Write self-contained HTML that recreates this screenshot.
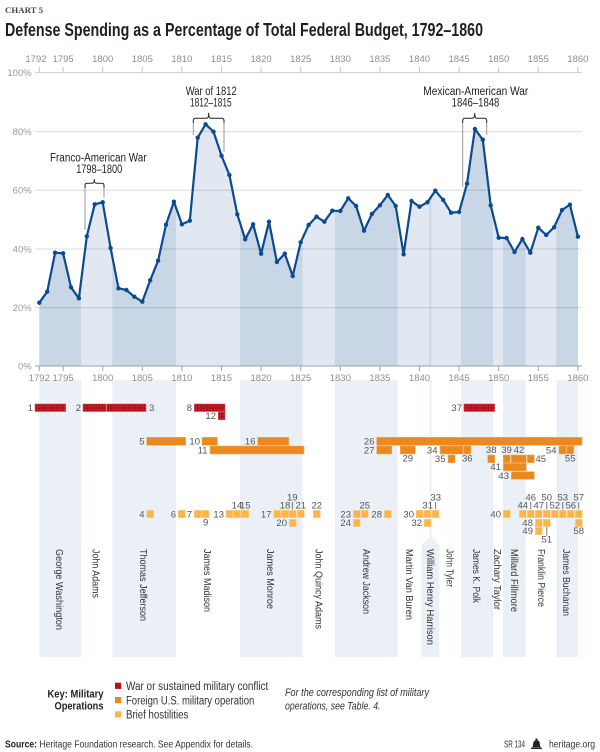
<!DOCTYPE html>
<html><head><meta charset="utf-8"><style>
html,body{margin:0;padding:0;background:#fff;}
svg{display:block;}
text{font-family:"Liberation Sans",sans-serif;}
</style></head><body>
<svg width="600" height="752" viewBox="0 0 600 752" xmlns="http://www.w3.org/2000/svg">
<defs>
<pattern id="dots" width="3" height="3" patternUnits="userSpaceOnUse">
<rect width="3" height="3" fill="#b3121c"/><rect x="1" y="1" width="0.8" height="0.8" fill="#d4555c"/>
</pattern>
<clipPath id="area"><polygon points="39.3,302.7 47.2,291.7 55.1,252.7 63.1,253.3 71,287.3 78.9,298.3 86.8,236.3 94.7,204.3 102.7,202.3 110.6,248 118.5,288.3 126.4,290 134.3,296.7 142.3,301.7 150.2,280.3 158.1,260.7 166,224.7 173.9,201.7 181.9,224.3 189.8,220.7 197.7,137.7 205.6,124.3 213.5,131.7 221.5,155.7 229.4,175 237.3,214.3 245.2,239.3 253.1,224.3 261.1,253.7 269,221.7 276.9,262 284.8,253.7 292.7,276 300.7,242.3 308.6,225 316.5,216.7 324.4,221.7 332.3,210.7 340.3,211 348.2,198.3 356.1,206 364,230.7 371.9,214 379.9,205.3 387.8,195 395.7,206 403.6,254.3 411.5,201 419.5,206.7 427.4,202.3 435.3,190.7 443.2,200 451.1,212.7 459.1,212 467,183.7 474.9,129 482.8,139.7 490.7,205.3 498.7,237.7 506.6,238 514.5,252 522.4,239 530.3,252.7 538.3,227.7 546.2,235 554.1,227.3 562,210 569.9,204.7 577.9,236.7 577.9,366 39.3,366"/></clipPath>
</defs>
<rect width="600" height="752" fill="#fff"/>

<!-- header -->
<text x="5" y="13" font-size="8.5" fill="#444" font-weight="bold" textLength="38" lengthAdjust="spacingAndGlyphs" style="font-family:'Liberation Serif',serif">CHART 5</text>
<text x="5" y="36" font-size="18.5" font-weight="bold" fill="#231f20" textLength="478" lengthAdjust="spacingAndGlyphs">Defense Spending as a Percentage of Total Federal Budget, 1792–1860</text>

<!-- lower president bands -->
<g fill="#ebf0f7">
<rect x="39.3" y="380" width="41.7" height="277"/>
<rect x="112.3" y="380" width="63.7" height="277"/>
<rect x="240" y="380" width="62.5" height="277"/>
<rect x="335" y="380" width="62.7" height="277"/>
<rect x="429.5" y="380" width="2" height="160"/>
<polygon points="421.7,545 430.5,536.5 439.3,545 439.3,657 421.7,657"/>
<rect x="461" y="380" width="32" height="277"/>
<rect x="503" y="380" width="22.7" height="277"/>
<rect x="556.3" y="380" width="21.7" height="277"/>
</g>

<!-- area fill bands -->
<g clip-path="url(#area)">
<rect x="39" y="60" width="540" height="306" fill="#e1e8f1"/>
<g fill="#c8d6e6">
<rect x="39" y="60" width="42" height="306"/>
<rect x="112.3" y="60" width="63.7" height="306"/>
<rect x="240" y="60" width="62.5" height="306"/>
<rect x="335" y="60" width="62.7" height="306"/>
<rect x="429.5" y="60" width="1.6" height="306"/>
<rect x="461" y="60" width="32" height="306"/>
<rect x="503" y="60" width="22.7" height="306"/>
<rect x="556.3" y="60" width="22" height="306"/>
</g>
</g>

<!-- gridlines -->
<g stroke="rgba(0,0,0,0.14)" stroke-width="1">
<line x1="35" y1="307.7" x2="582" y2="307.7"/>
<line x1="35" y1="249" x2="582" y2="249"/>
<line x1="35" y1="190.3" x2="582" y2="190.3"/>
<line x1="35" y1="131.6" x2="582" y2="131.6"/>
</g>
<line x1="35" y1="72.6" x2="582" y2="72.6" stroke="#cfcfcf" stroke-width="1"/>
<line x1="35" y1="366" x2="582" y2="366" stroke="#9aa3ad" stroke-width="1"/>
<g stroke="#c4c4c4" stroke-width="1">
<line x1="39.3" y1="67" x2="39.3" y2="72.6"/><line x1="63.1" y1="67" x2="63.1" y2="72.6"/><line x1="102.7" y1="67" x2="102.7" y2="72.6"/><line x1="142.3" y1="67" x2="142.3" y2="72.6"/><line x1="181.9" y1="67" x2="181.9" y2="72.6"/><line x1="221.5" y1="67" x2="221.5" y2="72.6"/><line x1="261.1" y1="67" x2="261.1" y2="72.6"/><line x1="300.7" y1="67" x2="300.7" y2="72.6"/><line x1="340.3" y1="67" x2="340.3" y2="72.6"/><line x1="379.9" y1="67" x2="379.9" y2="72.6"/><line x1="419.5" y1="67" x2="419.5" y2="72.6"/><line x1="459.1" y1="67" x2="459.1" y2="72.6"/><line x1="498.7" y1="67" x2="498.7" y2="72.6"/><line x1="538.3" y1="67" x2="538.3" y2="72.6"/><line x1="577.9" y1="67" x2="577.9" y2="72.6"/>
</g>
<g stroke="#9aa3ad" stroke-width="1">
<line x1="39.3" y1="366" x2="39.3" y2="371"/><line x1="63.1" y1="366" x2="63.1" y2="371"/><line x1="102.7" y1="366" x2="102.7" y2="371"/><line x1="142.3" y1="366" x2="142.3" y2="371"/><line x1="181.9" y1="366" x2="181.9" y2="371"/><line x1="221.5" y1="366" x2="221.5" y2="371"/><line x1="261.1" y1="366" x2="261.1" y2="371"/><line x1="300.7" y1="366" x2="300.7" y2="371"/><line x1="340.3" y1="366" x2="340.3" y2="371"/><line x1="379.9" y1="366" x2="379.9" y2="371"/><line x1="419.5" y1="366" x2="419.5" y2="371"/><line x1="459.1" y1="366" x2="459.1" y2="371"/><line x1="498.7" y1="366" x2="498.7" y2="371"/><line x1="538.3" y1="366" x2="538.3" y2="371"/><line x1="577.9" y1="366" x2="577.9" y2="371"/>
</g>

<!-- axis labels -->
<g font-size="9.5" fill="#8e8e8e" text-anchor="middle">
<text x="36" y="62">1792</text><text x="63.1" y="62">1795</text><text x="102.7" y="62">1800</text><text x="142.3" y="62">1805</text><text x="181.9" y="62">1810</text><text x="221.5" y="62">1815</text><text x="261.1" y="62">1820</text><text x="300.7" y="62">1825</text><text x="340.3" y="62">1830</text><text x="379.9" y="62">1835</text><text x="419.5" y="62">1840</text><text x="459.1" y="62">1845</text><text x="498.7" y="62">1850</text><text x="538.3" y="62">1855</text><text x="577.9" y="62">1860</text>
<text x="39.3" y="381">1792</text><text x="63.1" y="381">1795</text><text x="102.7" y="381">1800</text><text x="142.3" y="381">1805</text><text x="181.9" y="381">1810</text><text x="221.5" y="381">1815</text><text x="261.1" y="381">1820</text><text x="300.7" y="381">1825</text><text x="340.3" y="381">1830</text><text x="379.9" y="381">1835</text><text x="419.5" y="381">1840</text><text x="459.1" y="381">1845</text><text x="498.7" y="381">1850</text><text x="538.3" y="381">1855</text><text x="577.9" y="381">1860</text>
</g>
<g font-size="9.5" fill="#999" text-anchor="end">
<text x="31.7" y="76">100%</text><text x="31.7" y="135">80%</text><text x="31.7" y="193.7">60%</text><text x="31.7" y="252.4">40%</text><text x="31.7" y="311">20%</text><text x="31.7" y="369.4">0%</text>
</g>

<!-- data line -->
<polyline fill="none" stroke="#0b4a8e" stroke-width="2.2" stroke-linejoin="round" points="39.3,302.7 47.2,291.7 55.1,252.7 63.1,253.3 71,287.3 78.9,298.3 86.8,236.3 94.7,204.3 102.7,202.3 110.6,248 118.5,288.3 126.4,290 134.3,296.7 142.3,301.7 150.2,280.3 158.1,260.7 166,224.7 173.9,201.7 181.9,224.3 189.8,220.7 197.7,137.7 205.6,124.3 213.5,131.7 221.5,155.7 229.4,175 237.3,214.3 245.2,239.3 253.1,224.3 261.1,253.7 269,221.7 276.9,262 284.8,253.7 292.7,276 300.7,242.3 308.6,225 316.5,216.7 324.4,221.7 332.3,210.7 340.3,211 348.2,198.3 356.1,206 364,230.7 371.9,214 379.9,205.3 387.8,195 395.7,206 403.6,254.3 411.5,201 419.5,206.7 427.4,202.3 435.3,190.7 443.2,200 451.1,212.7 459.1,212 467,183.7 474.9,129 482.8,139.7 490.7,205.3 498.7,237.7 506.6,238 514.5,252 522.4,239 530.3,252.7 538.3,227.7 546.2,235 554.1,227.3 562,210 569.9,204.7 577.9,236.7"/>
<g fill="#0b4a8e">
<circle cx="39.3" cy="302.7" r="2.2"/><circle cx="47.2" cy="291.7" r="2.2"/><circle cx="55.1" cy="252.7" r="2.2"/><circle cx="63.1" cy="253.3" r="2.2"/><circle cx="71" cy="287.3" r="2.2"/><circle cx="78.9" cy="298.3" r="2.2"/><circle cx="86.8" cy="236.3" r="2.2"/><circle cx="94.7" cy="204.3" r="2.2"/><circle cx="102.7" cy="202.3" r="2.2"/><circle cx="110.6" cy="248" r="2.2"/><circle cx="118.5" cy="288.3" r="2.2"/><circle cx="126.4" cy="290" r="2.2"/><circle cx="134.3" cy="296.7" r="2.2"/><circle cx="142.3" cy="301.7" r="2.2"/><circle cx="150.2" cy="280.3" r="2.2"/><circle cx="158.1" cy="260.7" r="2.2"/><circle cx="166" cy="224.7" r="2.2"/><circle cx="173.9" cy="201.7" r="2.2"/><circle cx="181.9" cy="224.3" r="2.2"/><circle cx="189.8" cy="220.7" r="2.2"/><circle cx="197.7" cy="137.7" r="2.2"/><circle cx="205.6" cy="124.3" r="2.2"/><circle cx="213.5" cy="131.7" r="2.2"/><circle cx="221.5" cy="155.7" r="2.2"/><circle cx="229.4" cy="175" r="2.2"/><circle cx="237.3" cy="214.3" r="2.2"/><circle cx="245.2" cy="239.3" r="2.2"/><circle cx="253.1" cy="224.3" r="2.2"/><circle cx="261.1" cy="253.7" r="2.2"/><circle cx="269" cy="221.7" r="2.2"/><circle cx="276.9" cy="262" r="2.2"/><circle cx="284.8" cy="253.7" r="2.2"/><circle cx="292.7" cy="276" r="2.2"/><circle cx="300.7" cy="242.3" r="2.2"/><circle cx="308.6" cy="225" r="2.2"/><circle cx="316.5" cy="216.7" r="2.2"/><circle cx="324.4" cy="221.7" r="2.2"/><circle cx="332.3" cy="210.7" r="2.2"/><circle cx="340.3" cy="211" r="2.2"/><circle cx="348.2" cy="198.3" r="2.2"/><circle cx="356.1" cy="206" r="2.2"/><circle cx="364" cy="230.7" r="2.2"/><circle cx="371.9" cy="214" r="2.2"/><circle cx="379.9" cy="205.3" r="2.2"/><circle cx="387.8" cy="195" r="2.2"/><circle cx="395.7" cy="206" r="2.2"/><circle cx="403.6" cy="254.3" r="2.2"/><circle cx="411.5" cy="201" r="2.2"/><circle cx="419.5" cy="206.7" r="2.2"/><circle cx="427.4" cy="202.3" r="2.2"/><circle cx="435.3" cy="190.7" r="2.2"/><circle cx="443.2" cy="200" r="2.2"/><circle cx="451.1" cy="212.7" r="2.2"/><circle cx="459.1" cy="212" r="2.2"/><circle cx="467" cy="183.7" r="2.2"/><circle cx="474.9" cy="129" r="2.2"/><circle cx="482.8" cy="139.7" r="2.2"/><circle cx="490.7" cy="205.3" r="2.2"/><circle cx="498.7" cy="237.7" r="2.2"/><circle cx="506.6" cy="238" r="2.2"/><circle cx="514.5" cy="252" r="2.2"/><circle cx="522.4" cy="239" r="2.2"/><circle cx="530.3" cy="252.7" r="2.2"/><circle cx="538.3" cy="227.7" r="2.2"/><circle cx="546.2" cy="235" r="2.2"/><circle cx="554.1" cy="227.3" r="2.2"/><circle cx="562" cy="210" r="2.2"/><circle cx="569.9" cy="204.7" r="2.2"/><circle cx="577.9" cy="236.7" r="2.2"/>
</g>

<!-- annotations -->
<g font-size="11.5" fill="#222" text-anchor="middle">
<text x="98.3" y="161.5" textLength="96.7" lengthAdjust="spacingAndGlyphs">Franco-American War</text>
<text x="99.2" y="173" textLength="46" lengthAdjust="spacingAndGlyphs">1798–1800</text>
<text x="211.2" y="95" textLength="51" lengthAdjust="spacingAndGlyphs">War of 1812</text>
<text x="210.8" y="106.3" textLength="41.7" lengthAdjust="spacingAndGlyphs">1812–1815</text>
<text x="475.8" y="95" textLength="105" lengthAdjust="spacingAndGlyphs">Mexican-American War</text>
<text x="475.5" y="106.3" textLength="47.7" lengthAdjust="spacingAndGlyphs">1846–1848</text>
</g>
<g fill="none" stroke="#999" stroke-width="1">
<line x1="85" y1="188" x2="85" y2="230"/><line x1="104" y1="188" x2="104" y2="197.7"/>
<line x1="193.3" y1="123" x2="193.3" y2="135"/><line x1="224" y1="123" x2="224" y2="151.7"/>
<line x1="462.7" y1="123" x2="462.7" y2="186.7"/><line x1="486.7" y1="123" x2="486.7" y2="135"/>
</g>
<g fill="none" stroke="#222" stroke-width="1">
<path d="M85,188 L85,185.5 Q85,183.3 87.3,183.3 L92.3,183.3 Q94.3,183.3 94.3,179.3 Q94.3,183.3 96.3,183.3 L101.7,183.3 Q104,183.3 104,185.5 L104,188"/>
<path d="M193.3,123 L193.3,120.6 Q193.3,118.3 195.6,118.3 L206.7,118.3 Q208.7,118.3 208.7,112.7 Q208.7,118.3 210.7,118.3 L221.7,118.3 Q224,118.3 224,120.6 L224,123"/>
<path d="M462.7,123 L462.7,120.6 Q462.7,118.3 465,118.3 L472.7,118.3 Q474.7,118.3 474.7,113 Q474.7,118.3 476.7,118.3 L484.4,118.3 Q486.7,118.3 486.7,120.6 L486.7,123"/>
</g>

<!-- military operations: red -->
<g fill="url(#dots)" stroke="#cf5a61" stroke-width="0.6">
<rect x="35" y="404" width="30.7" height="7.5"/>
<rect x="83" y="404" width="23" height="7.5"/>
<rect x="106.7" y="404" width="39.3" height="7.5"/>
<rect x="194.3" y="404" width="30.7" height="7.5"/>
<rect x="218.3" y="411.9" width="6.7" height="7.8"/>
<rect x="464" y="404" width="30.7" height="7.5"/>
</g>
<!-- orange -->
<g fill="#e9891f" stroke="#f2ad66" stroke-width="0.6">
<rect x="146.7" y="437.3" width="39" height="8"/>
<rect x="202" y="437.3" width="15.3" height="8"/>
<rect x="257.7" y="437.3" width="31" height="8"/>
<rect x="376.7" y="437.3" width="205.3" height="8"/>
<rect x="210" y="446" width="94" height="8"/>
<rect x="376.7" y="446" width="15" height="8"/>
<rect x="400.3" y="446" width="15" height="8"/>
<rect x="440" y="446" width="23" height="8"/>
<rect x="463.7" y="446" width="7.3" height="8"/>
<rect x="559" y="446" width="7" height="8"/>
<rect x="566.7" y="446" width="7" height="8"/>
<rect x="448" y="455" width="7" height="7.7"/>
<rect x="487.7" y="455" width="7" height="7.7"/>
<rect x="503.3" y="455" width="7" height="7.7"/>
<rect x="511.3" y="455" width="15" height="7.7"/>
<rect x="527.3" y="455" width="7" height="7.7"/>
<rect x="503.3" y="463.3" width="23" height="7.5"/>
<rect x="511.3" y="471.7" width="23" height="7.6"/>
</g>
<!-- yellow -->
<g fill="#fcb54b" stroke="#fdd291" stroke-width="0.6">
<rect x="146.7" y="510.3" width="7" height="7.4"/><rect x="178.3" y="510.3" width="7" height="7.4"/><rect x="194.3" y="510.3" width="7" height="7.4"/><rect x="202" y="510.3" width="7" height="7.4"/><rect x="226" y="510.3" width="7" height="7.4"/><rect x="233.7" y="510.3" width="7" height="7.4"/><rect x="241.3" y="510.3" width="7.5" height="7.4"/><rect x="273.7" y="510.3" width="7" height="7.4"/><rect x="281.7" y="510.3" width="7" height="7.4"/><rect x="289.3" y="510.3" width="7" height="7.4"/><rect x="297.3" y="510.3" width="7" height="7.4"/><rect x="313.3" y="510.3" width="7" height="7.4"/><rect x="353.3" y="510.3" width="7" height="7.4"/><rect x="361.3" y="510.3" width="7" height="7.4"/><rect x="384.3" y="510.3" width="7" height="7.4"/><rect x="416" y="510.3" width="7" height="7.4"/><rect x="424" y="510.3" width="7" height="7.4"/><rect x="432" y="510.3" width="7" height="7.4"/><rect x="503.3" y="510.3" width="7" height="7.4"/><rect x="519.3" y="510.3" width="7" height="7.4"/><rect x="527.3" y="510.3" width="7" height="7.4"/><rect x="535.3" y="510.3" width="7" height="7.4"/><rect x="543.3" y="510.3" width="7" height="7.4"/><rect x="551.3" y="510.3" width="7" height="7.4"/><rect x="559.3" y="510.3" width="7" height="7.4"/><rect x="567.3" y="510.3" width="7" height="7.4"/><rect x="575.3" y="510.3" width="7" height="7.4"/>
<rect x="289.3" y="519.3" width="7" height="7.4"/><rect x="353.3" y="519.3" width="7" height="7.4"/><rect x="424" y="519.3" width="7" height="7.4"/><rect x="535.3" y="519.3" width="7" height="7.4"/><rect x="543.3" y="519.3" width="7" height="7.4"/><rect x="575.3" y="519.3" width="7" height="7.4"/>
<rect x="535.3" y="527.3" width="7" height="7.4"/>
</g>
<g stroke="#555" stroke-width="0.8">
<line x1="292.3" y1="502" x2="292.3" y2="509.3"/><line x1="435.7" y1="502" x2="435.7" y2="509.3"/><line x1="530.8" y1="502" x2="530.8" y2="509.3"/><line x1="546.8" y1="502" x2="546.8" y2="509.3"/><line x1="562.8" y1="502" x2="562.8" y2="509.3"/><line x1="578.8" y1="502" x2="578.8" y2="509.3"/><line x1="546.8" y1="527" x2="546.8" y2="535.5"/>
</g>
<!-- op labels -->
<g font-size="9.5" fill="#555" text-anchor="end">
<text x="33" y="411">1</text><text x="81" y="411">2</text><text x="192" y="411">8</text><text x="216" y="419">12</text><text x="462" y="411">37</text>
<text x="144.5" y="444.6">5</text><text x="200" y="444.6">10</text><text x="255.5" y="444.6">16</text><text x="374.5" y="444.6">26</text>
<text x="207.5" y="453.3">11</text><text x="374.5" y="453.3">27</text><text x="437.5" y="453.3">34</text><text x="556.5" y="453.3">54</text>
<text x="445.5" y="462">35</text><text x="501" y="470">41</text><text x="509" y="478.8">43</text>
<text x="144.5" y="517.3">4</text><text x="176" y="517.3">6</text><text x="192" y="517.3">7</text><text x="224" y="517.3">13</text><text x="271.5" y="517.3">17</text><text x="351" y="517.3">23</text><text x="382" y="517.3">28</text><text x="414" y="517.3">30</text><text x="501" y="517.3">40</text>
<text x="287" y="526.2">20</text><text x="351" y="526.2">24</text><text x="422" y="526.2">32</text><text x="533" y="526.2">48</text><text x="533" y="534">49</text>
</g>
<g font-size="9.5" fill="#555" text-anchor="start">
<text x="149" y="411">3</text><text x="535.5" y="462">45</text>
</g>
<g font-size="9.5" fill="#555" text-anchor="middle">
<text x="407.8" y="461.7">29</text><text x="467.3" y="461.7">36</text><text x="570.2" y="461.7">55</text>
<text x="491.2" y="452.8">38</text><text x="506.5" y="452.8">39</text><text x="519" y="452.8">42</text>
<text x="205.7" y="525.6">9</text>
<text x="237" y="508.6">14</text><text x="245.2" y="508.6">15</text><text x="285" y="508.6">18</text><text x="300.8" y="508.6">21</text><text x="316.8" y="508.6">22</text><text x="364.8" y="508.6">25</text><text x="427.7" y="508.6">31</text>
<text x="522.8" y="508.6">44</text><text x="538.8" y="508.6">47</text><text x="554.8" y="508.6">52</text><text x="570.8" y="508.6">56</text>
<text x="292.3" y="500.6">19</text><text x="435.7" y="500.6">33</text><text x="530.8" y="500.6">46</text><text x="546.8" y="500.6">50</text><text x="562.8" y="500.6">53</text><text x="578.8" y="500.6">57</text>
<text x="546.8" y="542.6">51</text><text x="578.8" y="534">58</text>
</g>

<!-- president names -->
<g font-size="10.5" fill="#333">
<text transform="translate(55.8,549) rotate(90)" textLength="81" lengthAdjust="spacingAndGlyphs">George Washington</text>
<text transform="translate(92.5,549) rotate(90)" textLength="49" lengthAdjust="spacingAndGlyphs">John Adams</text>
<text transform="translate(139.8,549) rotate(90)" textLength="72" lengthAdjust="spacingAndGlyphs">Thomas Jefferson</text>
<text transform="translate(203.8,549) rotate(90)" textLength="63" lengthAdjust="spacingAndGlyphs">James Madison</text>
<text transform="translate(267.2,549) rotate(90)" textLength="60" lengthAdjust="spacingAndGlyphs">James Monroe</text>
<text transform="translate(315.5,549) rotate(90)" textLength="80" lengthAdjust="spacingAndGlyphs">John Quincy Adams</text>
<text transform="translate(363.2,549) rotate(90)" textLength="65" lengthAdjust="spacingAndGlyphs">Andrew Jackson</text>
<text transform="translate(405.8,549) rotate(90)" textLength="71" lengthAdjust="spacingAndGlyphs">Martin Van Buren</text>
<text transform="translate(427.2,549) rotate(90)" textLength="96" lengthAdjust="spacingAndGlyphs">William Henry Harrison</text>
<text transform="translate(446.5,549) rotate(90)" textLength="38" lengthAdjust="spacingAndGlyphs">John Tyler</text>
<text transform="translate(473.2,549) rotate(90)" textLength="54" lengthAdjust="spacingAndGlyphs">James K. Polk</text>
<text transform="translate(493.8,549) rotate(90)" textLength="61" lengthAdjust="spacingAndGlyphs">Zachary Taylor</text>
<text transform="translate(510.8,549) rotate(90)" textLength="63" lengthAdjust="spacingAndGlyphs">Millard Fillmore</text>
<text transform="translate(538.2,549) rotate(90)" textLength="58" lengthAdjust="spacingAndGlyphs">Franklin Pierce</text>
<text transform="translate(563.2,549) rotate(90)" textLength="67" lengthAdjust="spacingAndGlyphs">James Buchanan</text>
</g>

<!-- legend -->
<g font-size="11" font-weight="bold" fill="#222" text-anchor="end">
<text x="103.5" y="697.7" textLength="56" lengthAdjust="spacingAndGlyphs">Key: Military</text>
<text x="103.5" y="709.5" textLength="49" lengthAdjust="spacingAndGlyphs">Operations</text>
</g>
<rect x="115" y="682.7" width="6.2" height="6.2" fill="#b3121c"/>
<rect x="115" y="697" width="6.2" height="6.2" fill="#e9891f"/>
<rect x="115" y="711.3" width="6.2" height="6.2" fill="#fcb54b"/>
<g font-size="11.5" fill="#333">
<text x="126" y="690" textLength="142.3" lengthAdjust="spacingAndGlyphs">War or sustained military conflict</text>
<text x="126" y="704.3" textLength="128.3" lengthAdjust="spacingAndGlyphs">Foreign U.S. military operation</text>
<text x="126" y="718.3" textLength="62.3" lengthAdjust="spacingAndGlyphs">Brief hostilities</text>
</g>
<g font-size="11" font-style="italic" fill="#333">
<text x="285" y="696" textLength="144" lengthAdjust="spacingAndGlyphs">For the corresponding list of military</text>
<text x="285" y="709.5" textLength="95.5" lengthAdjust="spacingAndGlyphs">operations, see Table. 4.</text>
</g>

<!-- footer -->
<text x="5" y="747.5" font-size="10" fill="#333" textLength="248" lengthAdjust="spacingAndGlyphs"><tspan font-weight="bold" fill="#222">Source:</tspan> Heritage Foundation research. See Appendix for details.</text>
<text x="504" y="747.5" font-size="10" fill="#333" textLength="21" lengthAdjust="spacingAndGlyphs">SR 134</text>
<g fill="#222">
<rect x="535.5" y="738.5" width="2" height="1.5"/>
<path d="M532,747.5 L541,747.5 L540,745.5 Q540,740 536.5,740 Q533,740 533,745.5 Z"/>
<rect x="531" y="747.8" width="11" height="1.2"/>
</g>
<text x="595" y="747.5" font-size="10" fill="#333" text-anchor="end" textLength="46" lengthAdjust="spacingAndGlyphs">heritage.org</text>
</svg>
</body></html>
